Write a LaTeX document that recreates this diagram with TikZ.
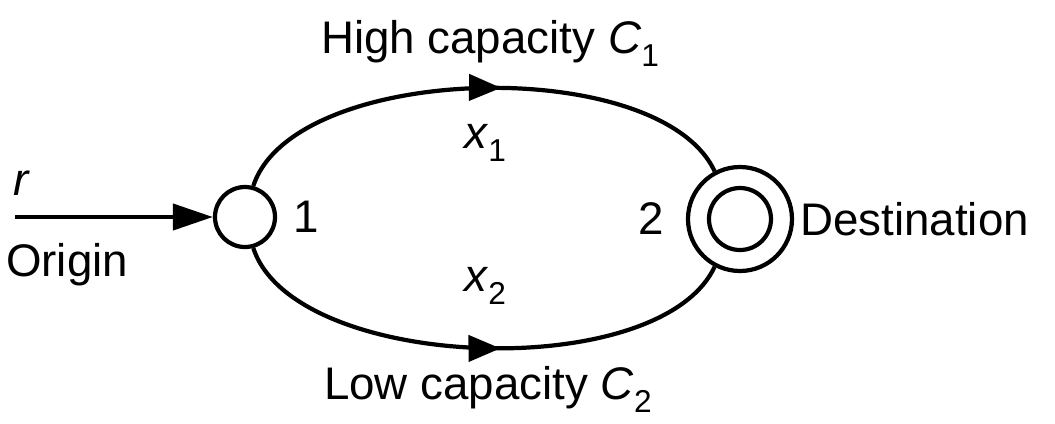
\documentclass[tikz,border=0pt]{standalone}
\usepackage{fontspec}
\setmainfont{Liberation Sans}
\usepackage{tikz}
\usetikzlibrary{positioning,arrows.meta,decorations.markings}
\newcommand{\lowidx}[1]{\raisebox{-0.55ex}{\small #1}}
\tikzset{
  vertex/.style={circle,draw=black,line width=1.2pt,minimum size=0.6cm,inner sep=0pt},
  sinkring/.style={circle,draw=black,line width=1.2pt,minimum size=1.04cm,inner sep=0pt},
  sinkcore/.style={circle,draw=black,line width=1.2pt,minimum size=0.62cm,inner sep=0pt},
  tag/.style={font=\fontsize{13}{15}\selectfont,inner sep=1pt},
  flowline/.style={line width=1.2pt},
  feed/.style={-{Triangle[length=4mm,width=2.6mm]},line width=1.2pt},
  midarrow/.style={postaction={decorate},decoration={markings,
    mark=at position 0.54 with {\arrow{Triangle[length=3.2mm,width=2.6mm]}}}}
}
\begin{document}
\begin{tikzpicture}
  \useasboundingbox (0,0) rectangle (10.55,4.23);
  \node[vertex] (orig) at (2.45,2.06) {};
  \node[sinkring] (dest) at (7.40,2.04) {};
  \node[sinkcore] (destin) at (dest) {};
  \coordinate (src) at (0.15,2.06);
  % labels
  \node[tag,right=0.12cm of orig] (one) {1};
  \node[tag,left=0.18cm of dest] (two) {2};
  \node[tag,right=0.02cm of dest] (dname) {Destination};
  \node[tag] (rlab) at (0.22,2.40) {\textit{r}};
  \node[tag,anchor=west] (olab) at (0.02,1.58) {Origin};
  \node[tag,anchor=base] (hicap) at (4.90,3.70) {High capacity \textit{C}\lowidx{1}};
  \node[tag,anchor=base] (locap) at (4.88,0.24) {Low capacity \textit{C}\lowidx{2}};
  \node[tag] (xone) at (4.85,2.80) {\textit{x}\lowidx{1}};
  \node[tag] (xtwo) at (4.85,1.37) {\textit{x}\lowidx{2}};
  % links
  \draw[feed] (src) -- (orig);
  \draw[flowline,midarrow] (orig.75) to[out=72,in=115,looseness=0.72] (dest.118);
  \draw[flowline,midarrow] (orig.-75) to[out=-72,in=-115,looseness=0.72] (dest.-118);
\end{tikzpicture}
\end{document}
